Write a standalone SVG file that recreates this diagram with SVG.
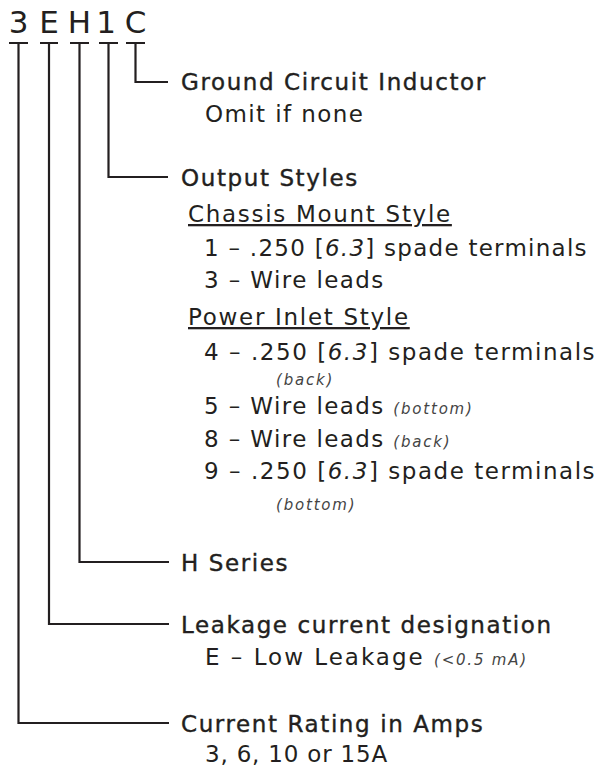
<svg xmlns="http://www.w3.org/2000/svg" width="600" height="769" viewBox="0 0 600 769">
<style>
.ln{fill:none;stroke:#231f20;stroke-width:2.2}
.code{font-family:"DejaVu Sans","Liberation Sans",sans-serif;font-size:31px;fill:#231f20;text-anchor:middle}
.ttl{font-family:"DejaVu Sans","Liberation Sans",sans-serif;font-size:23px;letter-spacing:1.6px;fill:#231f20;stroke:#231f20;stroke-width:0.4}
.sub{font-family:"DejaVu Sans","Liberation Sans",sans-serif;font-size:23px;letter-spacing:1.4px;fill:#231f20}
.u{text-decoration:underline;letter-spacing:1.7px}
.it{font-style:italic}
.sm{font-family:"DejaVu Sans","Liberation Sans",sans-serif;font-size:15px;letter-spacing:1.8px;font-style:italic;fill:#444}
</style>
<rect width="600" height="769" fill="#fff"/>
<g id="code">
<text class="code" x="18.5" y="33">3</text>
<text class="code" x="49" y="33">E</text>
<text class="code" x="79.5" y="33">H</text>
<text class="code" x="106" y="33">1</text>
<text class="code" x="135.5" y="33">C</text>
</g>
<g id="connectors">
<path class="ln" d="M9 43H28M18.5 43V723H169"/>
<path class="ln" d="M40 43H58M49 43V624H169"/>
<path class="ln" d="M70 43H89M79.5 43V562H169"/>
<path class="ln" d="M99 43H118M108.5 43V177H168"/>
<path class="ln" d="M126 43H145M135.5 43V82H168"/>
</g>
<g id="ground">
<text class="ttl" x="181" y="90">Ground Circuit Inductor</text>
<text class="sub" x="205" y="122">Omit if none</text>
</g>
<g id="output">
<text class="ttl" x="181" y="185.5">Output Styles</text>
<text class="sub u" x="188" y="222">Chassis Mount Style</text>
<text class="sub" x="204" y="256" textLength="384" lengthAdjust="spacing">1 – .250 [<tspan class="it">6.3</tspan>] spade terminals</text>
<text class="sub" x="204" y="288">3 – Wire leads</text>
<text class="sub u" x="188" y="325">Power Inlet Style</text>
<text class="sub" x="204" y="360" textLength="392" lengthAdjust="spacing">4 – .250 [<tspan class="it">6.3</tspan>] spade terminals</text>
<text class="sm" x="276" y="385">(back)</text>
<text class="sub" x="204" y="414">5 – Wire leads <tspan class="sm">(bottom)</tspan></text>
<text class="sub" x="204" y="447">8 – Wire leads <tspan class="sm">(back)</tspan></text>
<text class="sub" x="204" y="479" textLength="392" lengthAdjust="spacing">9 – .250 [<tspan class="it">6.3</tspan>] spade terminals</text>
<text class="sm" x="276" y="510">(bottom)</text>
</g>
<g id="hseries">
<text class="ttl" x="181" y="570.5">H Series</text>
</g>
<g id="leakage">
<text class="ttl" x="181" y="632.5">Leakage current designation</text>
<text class="sub" x="205" y="665" style="letter-spacing:2px">E – Low Leakage <tspan class="sm">(&lt;0.5 mA)</tspan></text>
</g>
<g id="current">
<text class="ttl" x="181" y="731.5">Current Rating in Amps</text>
<text class="sub" x="205" y="762" style="letter-spacing:0.8px">3, 6, 10 or 15A</text>
</g>
</svg>
